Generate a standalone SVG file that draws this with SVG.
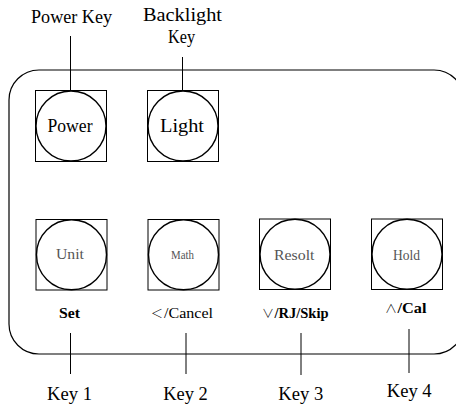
<svg xmlns="http://www.w3.org/2000/svg" width="456" height="405" viewBox="0 0 456 405">
<style>
.frame{fill:none;stroke:#000;stroke-width:1.2}
.sq{fill:none;stroke:#000;stroke-width:1}
.cir{fill:none;stroke:#000;stroke-width:1.4}
.ln{stroke:#000;stroke-width:1;fill:none}
text{font-family:"Liberation Serif","Noto Sans CJK SC",serif;fill:#000}
.sym{font-family:"Noto Sans CJK SC","DejaVu Sans",sans-serif;font-size:12px;font-weight:300}
.big{font-size:18px}
.in{font-size:14.5px;fill:#555}
.sm{font-size:11.5px;fill:#555}
.lbl{font-size:14px}
.b{font-weight:bold}
</style>
<rect class="frame" x="9" y="70" width="455" height="284" rx="30" ry="30"/>
<g id="connectors">
<line class="ln" x1="70.5" y1="36" x2="70.5" y2="91"/>
<line class="ln" x1="182.5" y1="57" x2="182.5" y2="91"/>
<line class="ln" x1="70.5" y1="333" x2="70.5" y2="374"/>
<line class="ln" x1="186" y1="333" x2="186" y2="374"/>
<line class="ln" x1="301" y1="333" x2="301" y2="375"/>
<line class="ln" x1="409" y1="329" x2="409" y2="373"/>
</g>
<g id="power">
<rect class="sq" x="35.5" y="90.5" width="71" height="71"/>
<circle class="cir" cx="71" cy="126" r="35"/>
<text class="big" x="47.5" y="132" textLength="45" lengthAdjust="spacingAndGlyphs" fill="#333">Power</text>
</g>
<g id="light">
<rect class="sq" x="147.5" y="90.5" width="71" height="71"/>
<circle class="cir" cx="183" cy="126" r="35"/>
<text class="big" x="160" y="132" textLength="44" lengthAdjust="spacingAndGlyphs" fill="#333">Light</text>
</g>
<g id="unit">
<rect class="sq" x="36" y="219.5" width="71" height="70.5"/>
<circle class="cir" cx="71.5" cy="254.75" r="35"/>
<text class="in" x="56" y="259" textLength="28" lengthAdjust="spacingAndGlyphs">Unit</text>
</g>
<g id="math">
<rect class="sq" x="148" y="219.5" width="71" height="70.5"/>
<circle class="cir" cx="183.5" cy="254.75" r="35"/>
<text class="sm" x="171" y="259" textLength="23" lengthAdjust="spacingAndGlyphs">Math</text>
</g>
<g id="resolt">
<rect class="sq" x="259.5" y="219" width="71" height="70.5"/>
<circle class="cir" cx="295" cy="254.25" r="35"/>
<text class="in" x="274" y="260" textLength="40.5" lengthAdjust="spacingAndGlyphs">Resolt</text>
</g>
<g id="hold">
<rect class="sq" x="371.5" y="219" width="71" height="70.5"/>
<circle class="cir" cx="407" cy="254.25" r="35"/>
<text class="in" x="393" y="260" textLength="27" lengthAdjust="spacingAndGlyphs">Hold</text>
</g>
<g id="labels">
<text class="big" x="31" y="22.5" textLength="81" lengthAdjust="spacingAndGlyphs">Power Key</text>
<text class="big" x="143" y="21" textLength="79" lengthAdjust="spacingAndGlyphs">Backlight</text>
<text class="big" x="168" y="43" textLength="27" lengthAdjust="spacingAndGlyphs">Key</text>
<text class="lbl b" x="59" y="317.5" textLength="21" lengthAdjust="spacingAndGlyphs">Set</text>
<text class="sym" x="151" y="317.5">＜</text>
<text class="lbl" x="164" y="317.5" textLength="49" lengthAdjust="spacingAndGlyphs">/Cancel</text>
<text class="sym" x="262" y="317.5">∨</text>
<text class="lbl b" x="274.5" y="317.5" textLength="54" lengthAdjust="spacingAndGlyphs">/RJ/Skip</text>
<text class="sym" x="385" y="313.3">∧</text>
<text class="lbl b" x="397.5" y="313.3" textLength="29" lengthAdjust="spacingAndGlyphs">/Cal</text>
<text class="big" x="47" y="399.5" textLength="45" lengthAdjust="spacingAndGlyphs">Key 1</text>
<text class="big" x="163.3" y="399.5" textLength="44.5" lengthAdjust="spacingAndGlyphs">Key 2</text>
<text class="big" x="278.3" y="399.8" textLength="45" lengthAdjust="spacingAndGlyphs">Key 3</text>
<text class="big" x="386.7" y="396.5" textLength="45" lengthAdjust="spacingAndGlyphs">Key 4</text>
</g>
</svg>
